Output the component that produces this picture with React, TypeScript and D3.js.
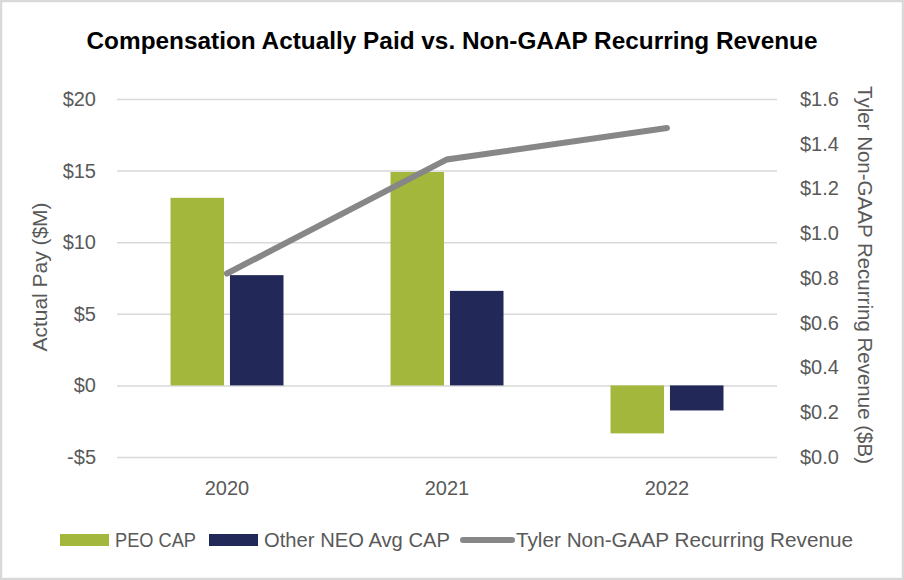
import * as d3 from "d3";
import { useRef, useEffect } from "react";

// values
const years = ["2020", "2021", "2022"];
const peoCap = [13.1, 14.9, -3.35];
const otherNeoCap = [7.7, 6.6, -1.75];
const recurringRevenue = [0.82, 1.33, 1.47];
const leftTicks = [-5, 0, 5, 10, 15, 20];
const rightTicks = [0, 0.2, 0.4, 0.6, 0.8, 1.0, 1.2, 1.4, 1.6];
const seriesNames = ["PEO CAP", "Other NEO Avg CAP", "Tyler Non-GAAP Recurring Revenue"];

const width = 904;
const height = 580;
const marginLeft = 117;
const marginRight = 127;
const plotTop = 99;
const plotBottom = 457;

const GREEN = "#A2B73C";
const NAVY = "#222857";
const GREY = "#878787";
const TEXT = "#595959";
const FONT = "'Liberation Sans', Arial, sans-serif";

export default function App() {
  const gyLeft = useRef<SVGGElement>(null);
  const gyRight = useRef<SVGGElement>(null);
  const gx = useRef<SVGGElement>(null);

  const x0 = d3
    .scaleBand<string>()
    .domain(years)
    .range([marginLeft, width - marginRight]);

  const groupW = 113;
  const x1 = d3
    .scaleBand<string>()
    .domain(["peo", "neo"])
    .range([x0.bandwidth() / 2 - groupW / 2, x0.bandwidth() / 2 + groupW / 2])
    .paddingInner(0.1);

  const yLeft = d3.scaleLinear().domain([-5, 20]).range([plotBottom, plotTop]);
  const yRight = d3.scaleLinear().domain([0, 1.6]).range([plotBottom, plotTop]);

  const line = d3
    .line<number>()
    .x((_, i) => x0(years[i])! + x0.bandwidth() / 2)
    .y((d) => yRight(d));

  useEffect(() => {
    if (gyLeft.current) {
      const g = d3.select(gyLeft.current);
      g.call(
        d3
          .axisLeft(yLeft)
          .tickValues(leftTicks)
          .tickSize(-(width - marginLeft - marginRight))
          .tickPadding(21)
          .tickFormat((d) => ((d as number) < 0 ? `-$${Math.abs(d as number)}` : `$${d}`))
      );
      g.select(".domain").remove();
      g.selectAll(".tick line").attr("stroke", "#d9d9d9").attr("stroke-width", 1.5);
      g.selectAll(".tick text")
        .attr("fill", TEXT)
        .style("font-size", "20px")
        .style("font-family", FONT);
    }
    if (gyRight.current) {
      const g = d3.select(gyRight.current);
      g.call(
        d3
          .axisRight(yRight)
          .tickValues(rightTicks)
          .tickSize(0)
          .tickPadding(23)
          .tickFormat((d) => `$${(d as number).toFixed(1)}`)
      );
      g.select(".domain").remove();
      g.selectAll(".tick text")
        .attr("fill", TEXT)
        .style("font-size", "20px")
        .style("font-family", FONT);
    }
    if (gx.current) {
      const g = d3.select(gx.current);
      g.call(d3.axisBottom(x0).tickSize(0).tickPadding(24));
      g.select(".domain").remove();
      g.selectAll(".tick text")
        .attr("fill", TEXT)
        .style("font-size", "20px")
        .style("font-family", FONT);
    }
  }, []);

  const barY = (v: number) => Math.min(yLeft(v), yLeft(0));
  const barH = (v: number) => Math.abs(yLeft(v) - yLeft(0));

  const legendY = 540;

  return (
    <svg
      width={width}
      height={height}
      style={{ position: "absolute", left: 0, top: 0, background: "#fff" }}
      fontFamily={FONT}
    >
      <rect x={1} y={1} width={width - 2} height={height - 2} fill="#fff" stroke="#d9d9d9" strokeWidth={2.5} />

      <text
        x={width / 2}
        y={49}
        textAnchor="middle"
        fontFamily="'Liberation Sans Narrow', 'Arial Narrow', sans-serif"
        fontWeight="bold"
        fontSize={24}
        fill="#000"
        textLength={731}
        lengthAdjust="spacingAndGlyphs"
      >
        Compensation Actually Paid vs. Non-GAAP Recurring Revenue
      </text>

      <g ref={gyLeft} transform={`translate(${marginLeft},0)`} />
      <g ref={gyRight} transform={`translate(${width - marginRight},0)`} />
      <g ref={gx} transform={`translate(0,${plotBottom})`} />

      {years.map((yr, i) => (
        <g key={yr} transform={`translate(${x0(yr)},0)`}>
          <rect x={x1("peo")} y={barY(peoCap[i])} width={x1.bandwidth()} height={barH(peoCap[i])} fill={GREEN} />
          <rect x={x1("neo")} y={barY(otherNeoCap[i])} width={x1.bandwidth()} height={barH(otherNeoCap[i])} fill={NAVY} />
        </g>
      ))}

      <path d={line(recurringRevenue) ?? ""} fill="none" stroke={GREY} strokeWidth={6} strokeLinecap="round" />

      <text
        transform="translate(47,277) rotate(-90)"
        textAnchor="middle"
        fontSize={20}
        fill={TEXT}
        textLength={149}
        lengthAdjust="spacingAndGlyphs"
      >
        Actual Pay ($M)
      </text>
      <text
        transform="translate(858,275) rotate(90)"
        textAnchor="middle"
        fontSize={20}
        fill={TEXT}
        textLength={378}
        lengthAdjust="spacingAndGlyphs"
      >
        Tyler Non-GAAP Recurring Revenue ($B)
      </text>

      {/* legend */}
      <rect x={60} y={legendY - 6} width={49} height={12} fill={GREEN} />
      <text x={115} y={legendY + 7} fontSize={20} fill={TEXT} textLength={81} lengthAdjust="spacingAndGlyphs">
        {seriesNames[0]}
      </text>
      <rect x={209} y={legendY - 6} width={49} height={12} fill={NAVY} />
      <text x={264} y={legendY + 7} fontSize={20} fill={TEXT} textLength={186} lengthAdjust="spacingAndGlyphs">
        {seriesNames[1]}
      </text>
      <line x1={463} x2={512} y1={legendY} y2={legendY} stroke={GREY} strokeWidth={6} strokeLinecap="round" />
      <text x={516} y={legendY + 7} fontSize={20} fill={TEXT} textLength={337} lengthAdjust="spacingAndGlyphs">
        {seriesNames[2]}
      </text>
    </svg>
  );
}
